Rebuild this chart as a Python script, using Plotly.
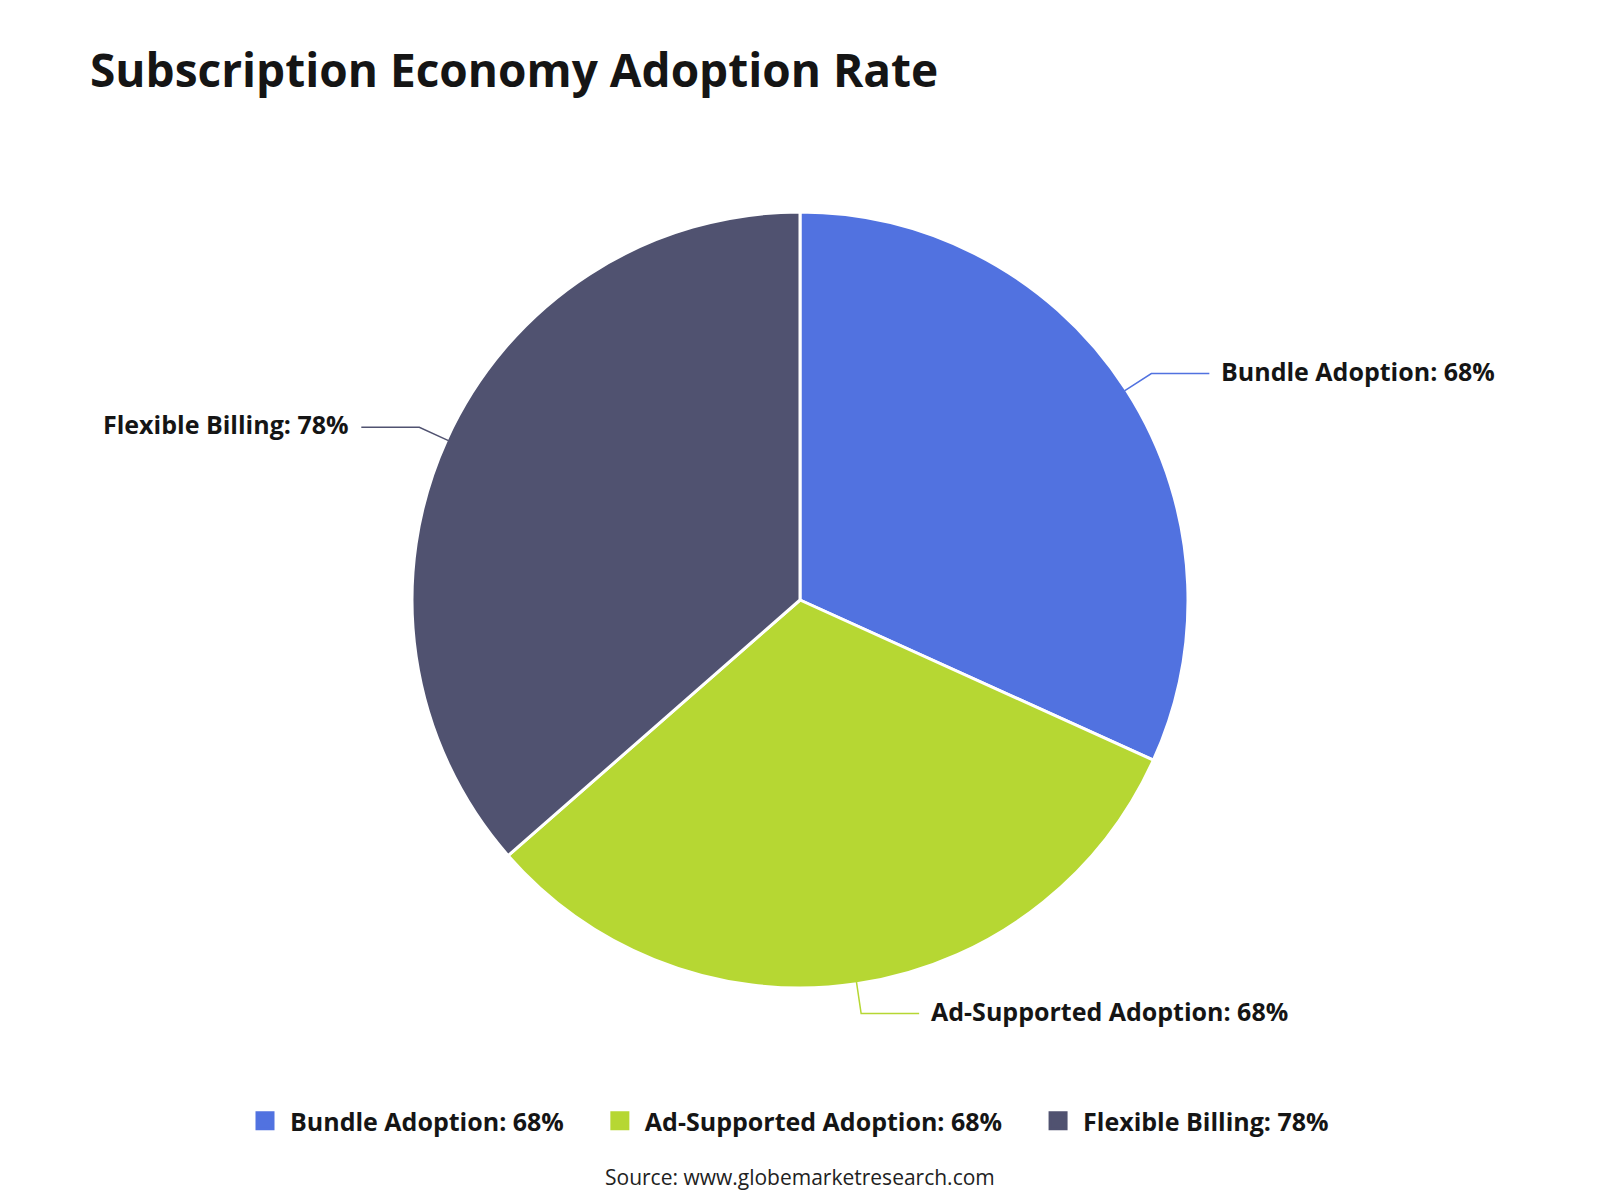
import math
import plotly.graph_objects as go

title = "Subscription Economy Adoption Rate"
categories = ["Bundle Adoption", "Ad-Supported Adoption", "Flexible Billing"]
values = [68, 68, 78]
colors = ["#5172E0", "#B6D733", "#505270"]
source = "Source: www.globemarketresearch.com"

W, H = 1600, 1200
cx, cy, R = 800, 600, 388
FONT = "Open Sans"

labels = [f"{c}: {v}%" for c, v in zip(categories, values)]

fig = go.Figure(go.Pie(
    labels=labels,
    values=values,
    sort=False,
    direction="clockwise",
    rotation=0,
    marker=dict(colors=colors, line=dict(color="white", width=3)),
    textinfo="none",
    hoverinfo="skip",
    showlegend=False,
    domain=dict(x=[(cx - R) / W, (cx + R) / W], y=[1 - (cy + R) / H, 1 - (cy - R) / H]),
))

# legend entries (larger square swatches than the pie legend allows)
for lab, col in zip(labels, colors):
    fig.add_trace(go.Scatter(
        x=[None], y=[None], mode="markers", name=f"<b>{lab}</b>\u00a0\u00a0\u00a0\u00a0",
        marker=dict(symbol="square", size=16, color=col, line=dict(color=col, width=3)),
        hoverinfo="skip", showlegend=True,
    ))

# leader lines and outside labels, computed from the slice angles
total = sum(values)
cum = 0
annotations = []
shapes = []
for lab, v, col in zip(labels, values, colors):
    mid = (cum + v / 2) / total * 2 * math.pi
    cum += v
    sx, sy = math.sin(mid), -math.cos(mid)
    p0 = (cx + (R - 2) * sx, cy + (R - 2) * sy)
    p1 = (cx + (R + 30) * sx, cy + (R + 30) * sy)
    side = 1 if sx >= 0 else -1
    p2 = (p1[0] + side * 58, p1[1])
    shapes.append(dict(type="path", xref="paper", yref="paper",
                       path="M {},{} L {},{} L {},{}".format(
                           p0[0] / W, 1 - p0[1] / H, p1[0] / W, 1 - p1[1] / H, p2[0] / W, 1 - p2[1] / H),
                       line=dict(color=col, width=1.5)))
    annotations.append(dict(
        x=(p2[0] + side * 10) / W, y=1 - (p2[1] - 3) / H, xref="paper", yref="paper",
        text=f"<b>{lab}</b>", showarrow=False,
        xanchor="left" if side > 0 else "right", yanchor="middle",
        font=dict(family=FONT, size=25, color="#151515"),
    ))

annotations.append(dict(
    x=0.5, y=1 - 1177 / H, xref="paper", yref="paper", text=source, showarrow=False,
    xanchor="center", yanchor="middle", font=dict(family=FONT, size=21, color="#222222"),
))

fig.update_layout(
    width=W, height=H,
    margin=dict(l=0, r=0, t=0, b=0),
    paper_bgcolor="white", plot_bgcolor="white",
    xaxis=dict(visible=False), yaxis=dict(visible=False),
    title=dict(text=f"<b>{title}</b>", x=90 / W, xanchor="left", y=1 - 71 / H, yanchor="middle",
               font=dict(family=FONT, size=46, color="#151515")),
    showlegend=True,
    legend=dict(orientation="h", x=0.5, xanchor="center", y=1 - 1121 / H, yanchor="middle",
                font=dict(family=FONT, size=25, color="#151515"), itemsizing="trace",
                itemwidth=40, traceorder="normal"),
    shapes=shapes,
    annotations=annotations,
)

fig.write_html("out.html")
